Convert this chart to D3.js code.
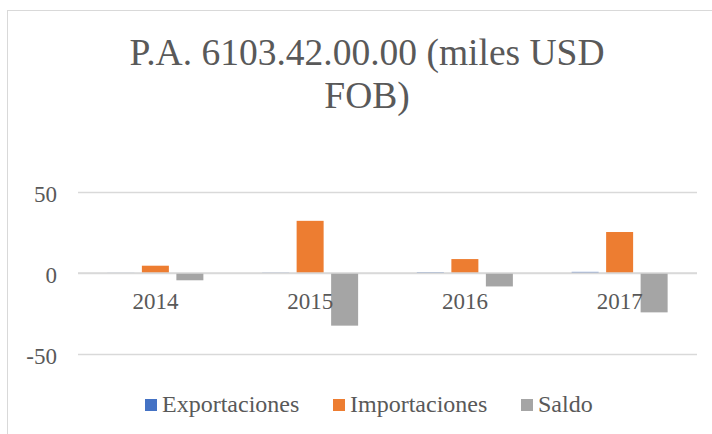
<!DOCTYPE html>
<html><head><meta charset="utf-8">
<script src="https://cdn.jsdelivr.net/npm/d3@7"></script>
<style>body{margin:0;background:#fff}svg{display:block}
svg text{font-family:"Liberation Serif","Tinos","DejaVu Serif",serif !important;}</style>
</head><body>
<svg id="c" width="712" height="434"></svg>
<script>
const categories = ["2014","2015","2016","2017"];
const seriesNames = ["Exportaciones","Importaciones","Saldo"];
const exportaciones = [0.1, 0.2, 0.5, 0.7];
const importaciones = [4.5, 32.2, 8.6, 25.3];
const saldo = [-4.5, -32.5, -8.3, -24.3];
const yTicks = [-50, 0, 50];
const colors = ["#4472C4","#ED7D31","#A5A5A5"];
const seriesValues = [exportaciones, importaciones, saldo];

const svg = d3.select("#c");
const txt = "#595959";

// chart border
svg.append("rect").attr("x",7.5).attr("y",10.5).attr("width",720).attr("height",440)
  .attr("fill","none").attr("stroke","#d9d9d9").attr("stroke-width",1);

// title
const title = svg.append("text").attr("text-anchor","middle")
  .attr("font-size",37.5).attr("fill",txt);
title.append("tspan").attr("x",367).attr("y",65).text("P.A. 6103.42.00.00 (miles USD");
title.append("tspan").attr("x",367).attr("y",108).text("FOB)");

const x0 = d3.scaleBand().domain(categories).range([78,697]).paddingInner(0).paddingOuter(0);
const y = d3.scaleLinear().domain([-50,50]).range([354,192]);

// gridlines
const grid = svg.append("g").attr("transform","translate(78,0)")
  .call(d3.axisLeft(y).tickValues(yTicks).tickSize(-(697-78)).tickFormat(""));
grid.select(".domain").remove();
grid.selectAll("line").attr("stroke","#d9d9d9").attr("stroke-width",1.5);

// y labels
const yl = svg.append("g").attr("transform","translate(78,0)")
  .call(d3.axisLeft(y).tickValues(yTicks).tickSize(0).tickPadding(21).tickFormat(d => String(d)));
yl.select(".domain").remove();
yl.selectAll("text").attr("font-size",23).attr("fill",txt).attr("dy","0.42em");

// bars
const barW = 27, gap = 7.5;
const groupW = 3*barW + 2*gap;
const xi = d3.scaleBand().domain(seriesNames).range([0, groupW]).paddingInner(gap/(barW+gap)).paddingOuter(0);
const gs = svg.append("g");
seriesNames.forEach((s, si) => {
  gs.selectAll(".b"+si).data(seriesValues[si]).enter().append("rect")
    .attr("x",(d,i)=> x0(categories[i]) + x0.bandwidth()/2 - groupW/2 + xi(s))
    .attr("width", xi.bandwidth())
    .attr("y", d => y(Math.max(0,d)))
    .attr("height", d => Math.max(Math.abs(y(d)-y(0)), 0.01))
    .attr("fill", colors[si]);
});

// zero line over bars
svg.append("line").attr("x1",78).attr("x2",697).attr("y1",y(0)).attr("y2",y(0))
  .attr("stroke","#d9d9d9").attr("stroke-width",1.5);

// category labels
const xl = svg.append("g").attr("transform",`translate(0,${y(0)})`)
  .call(d3.axisBottom(x0).tickSize(0).tickPadding(20));
xl.select(".domain").remove();
xl.selectAll("text").attr("font-size",23).attr("fill",txt);

// legend
const legendX = [145, 333, 521];
const lg = svg.append("g");
seriesNames.forEach((s,i)=>{
  lg.append("rect").attr("x",legendX[i]).attr("y",399).attr("width",12).attr("height",12).attr("fill",colors[i]);
  lg.append("text").attr("x",legendX[i]+17).attr("y",412)
    .attr("font-size",24).attr("fill",txt).text(s);
});
</script>
</body></html>
